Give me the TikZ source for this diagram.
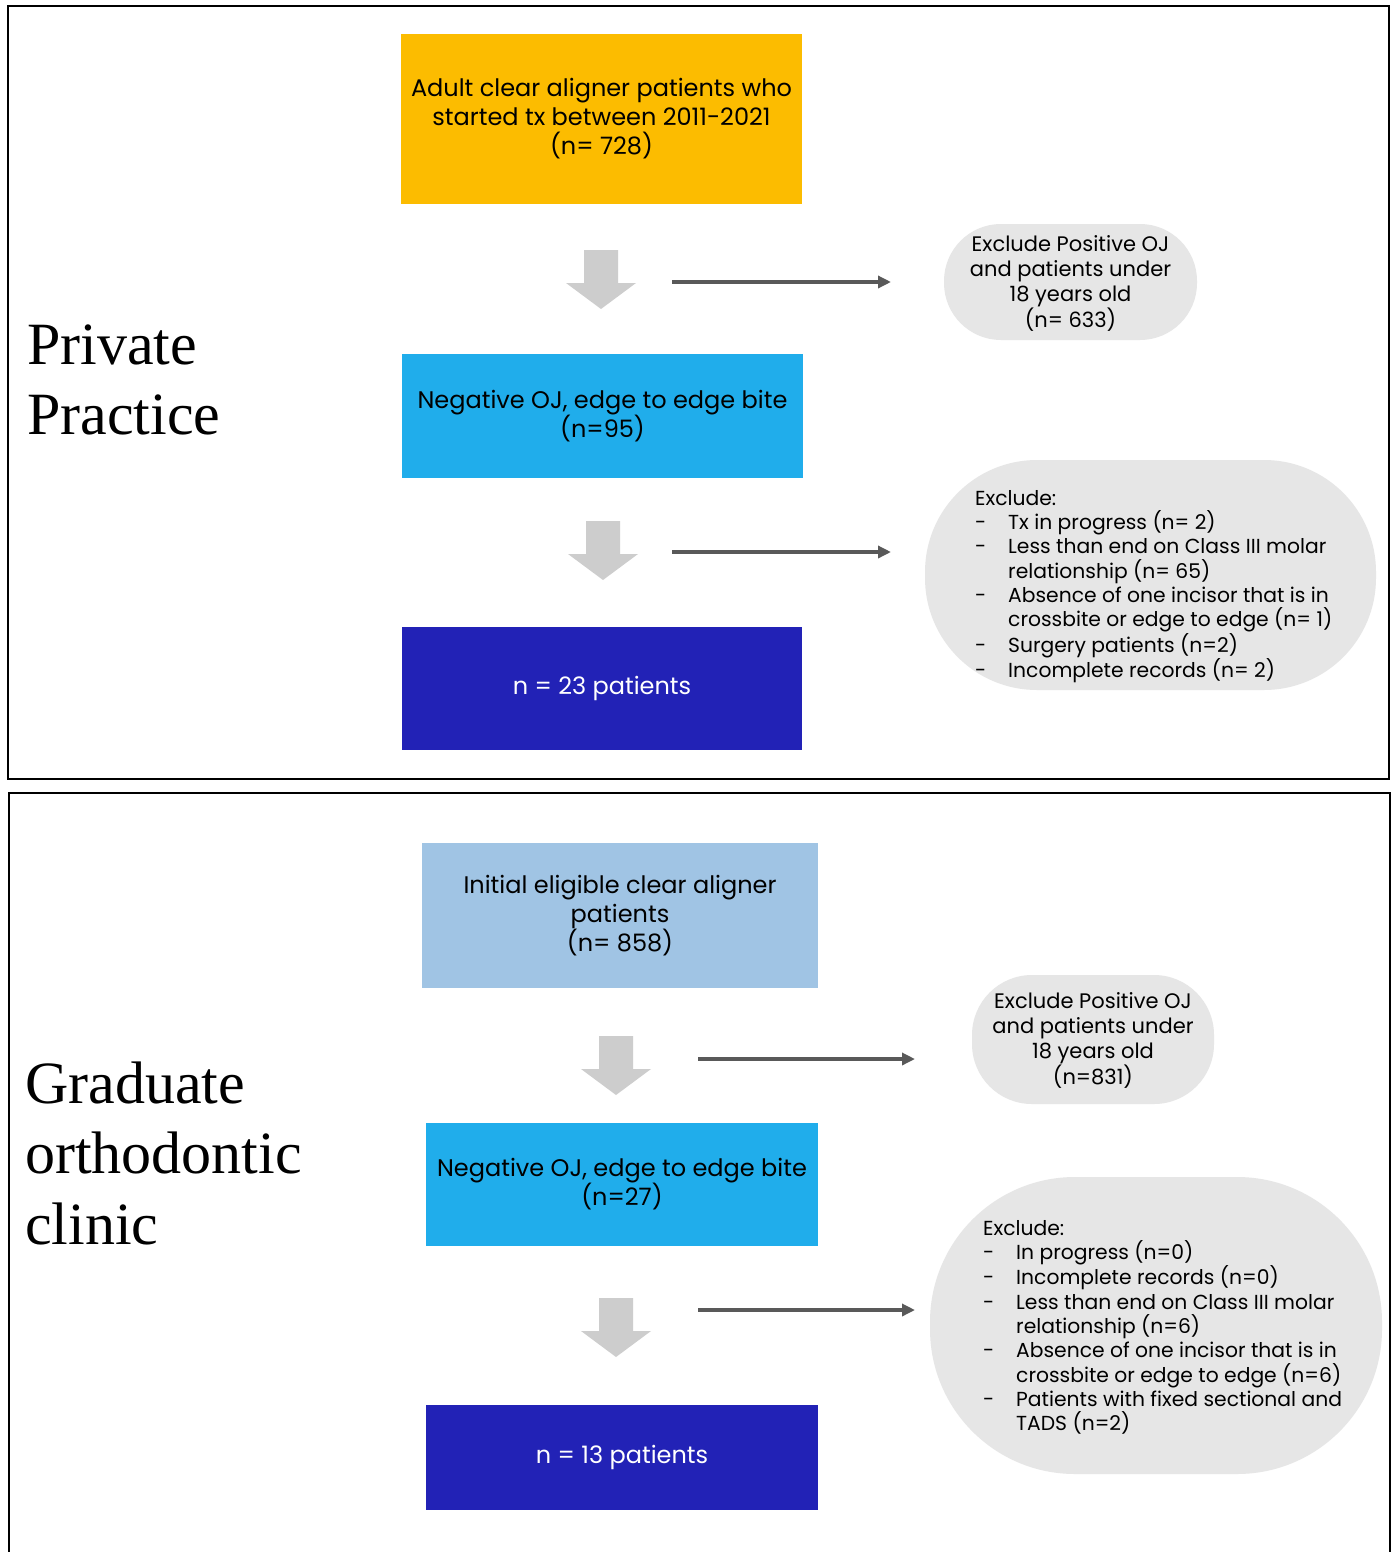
\documentclass[tikz,border=0pt]{standalone}
\usepackage{fontspec}
\setmainfont{Poppins}
\newfontfamily\titlefont{Liberation Serif}
\usetikzlibrary{arrows.meta}
\definecolor{cYellow}{HTML}{FCBC00}
\definecolor{cCyan}{HTML}{20ADEB}
\definecolor{cNavy}{HTML}{2222B6}
\definecolor{cLight}{HTML}{A0C4E4}
\definecolor{cGray}{HTML}{E6E6E6}
\definecolor{cArrowG}{HTML}{CDCDCD}
\definecolor{cLine}{HTML}{595959}
\newcommand\lidash[1]{\makebox[33pt][l]{-}#1}
\newcommand\licont[1]{\hspace*{33pt}#1}
\begin{document}
\begin{tikzpicture}[x=1pt,y=-1pt,
  boxnode/.style={rectangle, inner sep=0pt, align=center, text=black,
    font=\fontsize{24}{29}\selectfont},
  grayshape/.style={rectangle, fill=cGray, inner sep=0pt},
  graytext/.style={inner sep=0pt, align=center, font=\fontsize{21}{25}\selectfont},
  listtext/.style={inner sep=0pt, align=left, anchor=north west, font=\fontsize{20.3}{24.3}\selectfont},
  titletext/.style={inner sep=0pt, align=left, anchor=west, font=\titlefont\fontsize{60}{70.5}\selectfont},
  harrow/.style={draw=cLine, line width=3.5pt, -{Triangle[length=13pt,width=12pt]}},
  downarrow/.pic={\fill[cArrowG] (-17,0) -- (17,0) -- (17,33) -- (35,33) -- (0,59) -- (-35,33) -- (-17,33) -- cycle;}
]
\useasboundingbox (0,0) rectangle (1397,1552);
\fill[white] (0,0) rectangle (1397,1552);

% frames
\draw[line width=2pt] (8,6) rectangle (1389,779);
\draw[line width=2pt] (9,1560) -- (9,793) -- (1390,793) -- (1390,1560);

% ---------- Private Practice ----------
\node[titletext] (t1) at (27,380) {Private\\Practice};

\node[boxnode, fill=cYellow, minimum width=401pt, minimum height=170pt] (b1) at (601.5,119)
  {Adult clear aligner patients who\\started tx between 2011-2021\\(n= 728)};
\pic at (601,250) {downarrow};
\coordinate (a1s) at (672,282);
\coordinate (a1e) at (891,282);
\draw[harrow] (a1s) -- (a1e);
\node[grayshape, rounded corners=57pt, minimum width=253pt, minimum height=116pt] (g1) at (1070.5,282) {};
\node[graytext] (g1t) at (1070.5,283) {Exclude Positive OJ\\and patients under\\18 years old\\(n= 633)};

\node[boxnode, fill=cCyan, minimum width=401pt, minimum height=124pt] (b2) at (602.5,416)
  {Negative OJ, edge to edge bite\\(n=95)};
\pic at (603,521) {downarrow};
\coordinate (a2s) at (672,552);
\coordinate (a2e) at (891,552);
\draw[harrow] (a2s) -- (a2e);
\node[grayshape, rounded corners=112pt, minimum width=451pt, minimum height=230pt] (g2) at (1150.5,575) {};
\node[listtext] (g2t) at (975,490) {Exclude:\\
\lidash{Tx in progress (n= 2)}\\
\lidash{Less than end on Class III molar}\\
\licont{relationship (n= 65)}\\
\lidash{Absence of one incisor that is in}\\
\licont{crossbite or edge to edge (n= 1)}\\
\lidash{Surgery patients (n=2)}\\
\lidash{Incomplete records (n= 2)}};

\node[boxnode, fill=cNavy, text=white, minimum width=400pt, minimum height=123pt] (b3) at (602,688.5)
  {n = 23 patients};

% ---------- Graduate orthodontic clinic ----------
\node[titletext] (t2) at (25,1153) {Graduate\\orthodontic\\clinic};

\node[boxnode, fill=cLight, minimum width=396pt, minimum height=145pt] (c1) at (620,915.5)
  {Initial eligible clear aligner\\patients\\(n= 858)};
\pic at (616,1036) {downarrow};
\coordinate (a3s) at (698,1059);
\coordinate (a3e) at (915,1059);
\draw[harrow] (a3s) -- (a3e);
\node[grayshape, rounded corners=60pt, minimum width=242pt, minimum height=129pt] (g3) at (1093,1039.5) {};
\node[graytext] (g3t) at (1093,1040) {Exclude Positive OJ\\and patients under\\18 years old\\(n=831)};

\node[boxnode, fill=cCyan, minimum width=392pt, minimum height=123pt] (c2) at (622,1184.5)
  {Negative OJ, edge to edge bite\\(n=27)};
\pic at (616,1298) {downarrow};
\coordinate (a4s) at (698,1310);
\coordinate (a4e) at (915,1310);
\draw[harrow] (a4s) -- (a4e);
\node[grayshape, rounded corners=145pt, minimum width=452pt, minimum height=297pt] (g4) at (1156,1325.5) {};
\node[listtext] (g4t) at (983,1220) {Exclude:\\
\lidash{In progress (n=0)}\\
\lidash{Incomplete records (n=0)}\\
\lidash{Less than end on Class III molar}\\
\licont{relationship (n=6)}\\
\lidash{Absence of one incisor that is in}\\
\licont{crossbite or edge to edge (n=6)}\\
\lidash{Patients with fixed sectional and}\\
\licont{TADS (n=2)}};

\node[boxnode, fill=cNavy, text=white, minimum width=392pt, minimum height=105pt] (c3) at (622,1457.5)
  {n = 13 patients};
\end{tikzpicture}
\end{document}
